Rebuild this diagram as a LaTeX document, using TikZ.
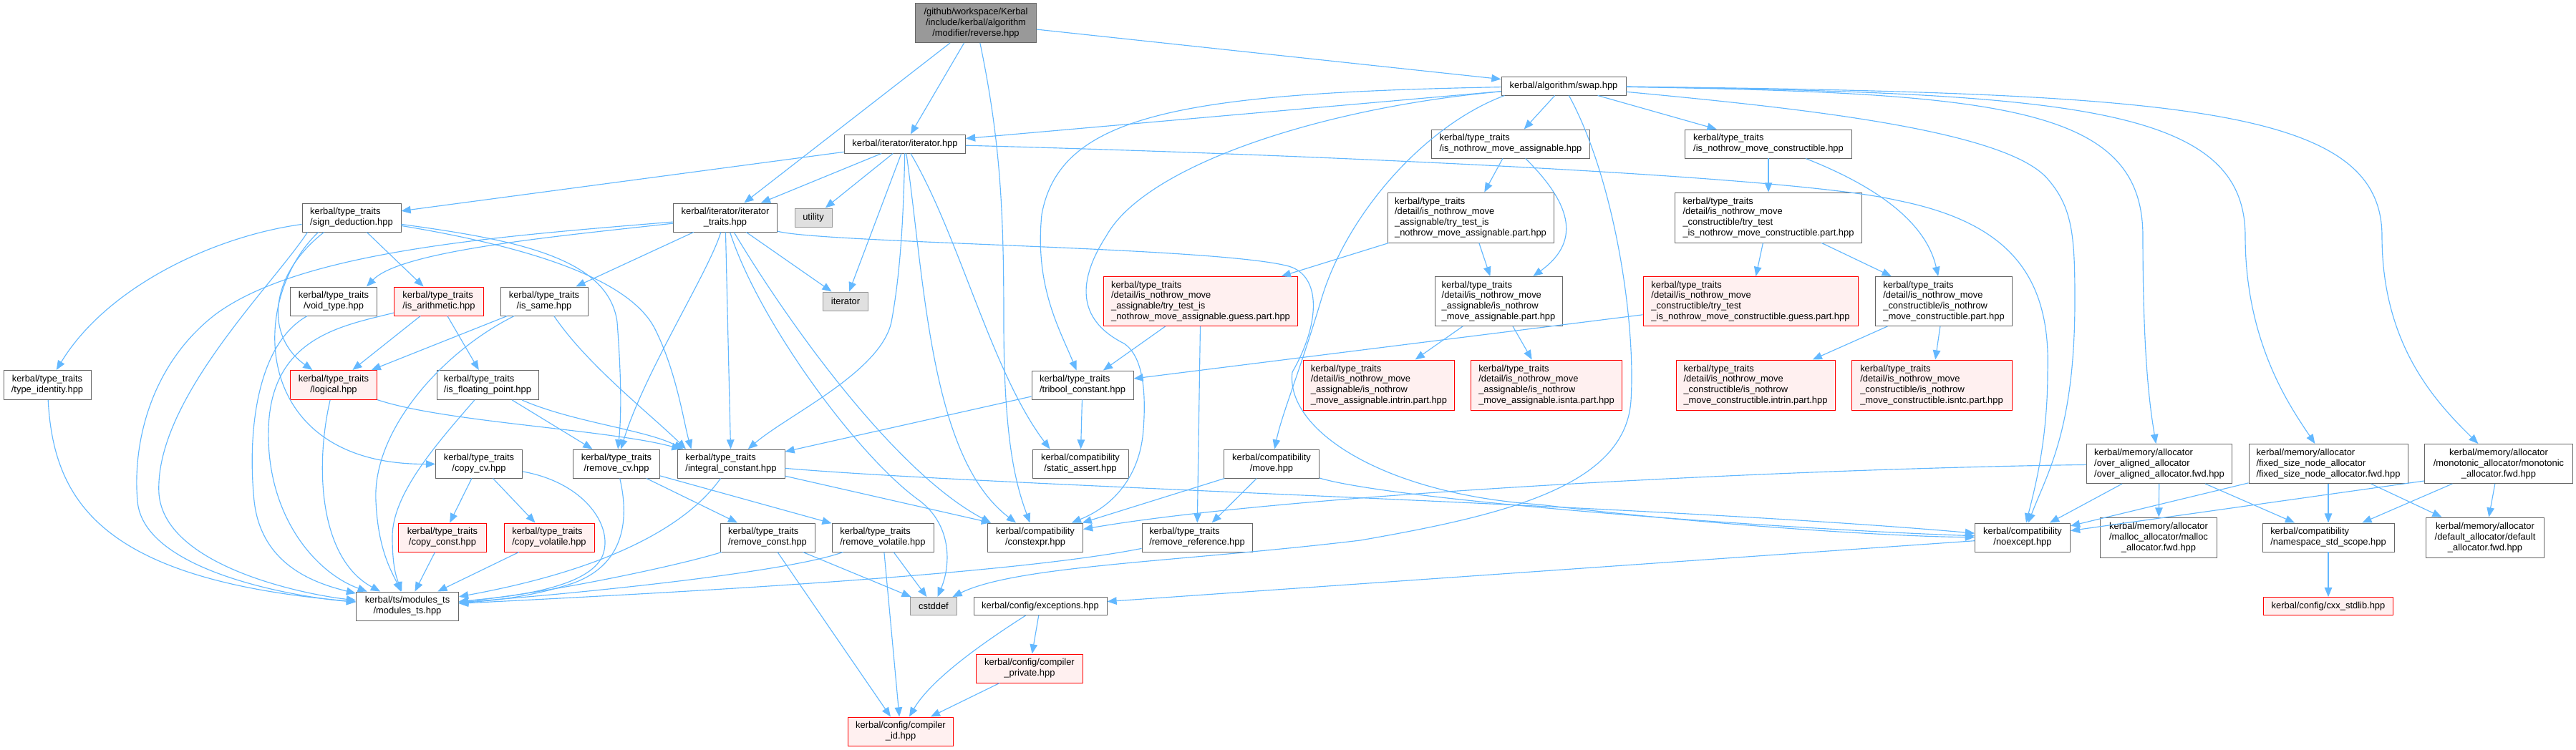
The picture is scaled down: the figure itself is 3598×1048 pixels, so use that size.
\documentclass[tikz,border=0pt]{standalone}
\usepackage{fontspec}
\setmainfont{Liberation Sans}
\usetikzlibrary{arrows.meta}
\definecolor{edgec}{HTML}{63B8FF}
\definecolor{bordc}{HTML}{666666}
\definecolor{redfill}{HTML}{FFF0F0}
\definecolor{sysfill}{HTML}{E0E0E0}
\definecolor{sysbord}{HTML}{999999}
\definecolor{titlefill}{HTML}{999999}
\begin{document}
\begin{tikzpicture}[x=0.02cm,y=-0.02cm,
  base/.style={rectangle, line width=0.55pt, inner xsep=0.12cm, inner ysep=0.05cm, font=\fontsize{7.35}{8.4}\selectfont, text=black},
  nd/.style={base, draw=bordc, fill=white},
  nr/.style={base, draw=red, fill=redfill},
  ns/.style={base, draw=sysbord, fill=sysfill},
  nt/.style={base, draw=bordc, fill=titlefill},
  sz/.style 2 args={minimum width=#1*0.02cm, minimum height=#2*0.02cm},
  L/.style={align=left}, C/.style={align=center},
  lk/.style={draw=edgec, line width=0.65pt, -{Triangle[length=7.5pt,width=6pt]}}
]
\path[use as bounding box] (0,0) rectangle (3598,1048);

% ---------------- nodes ----------------
\node[nt,C,sz={169}{55}] (title) at (1363,32) {/github/workspace/Kerbal\\/include/kerbal/algorithm\\/modifier/reverse.hpp};
\node[nd,sz={174}{26}] (swap) at (2184,120) {kerbal/algorithm/swap.hpp};
\node[nd,sz={169}{26}] (iter) at (1264,201) {kerbal/iterator/iterator.hpp};
\node[nd,L,sz={221}{40}] (inma) at (2110,201) {kerbal/type\_traits\\/is\_nothrow\_move\_assignable.hpp};
\node[nd,L,sz={233}{40}] (inmc) at (2470,201) {kerbal/type\_traits\\/is\_nothrow\_move\_constructible.hpp};
\node[nd,L,sz={138}{40}] (sign) at (491,304) {kerbal/type\_traits\\/sign\_deduction.hpp};
\node[nd,C,sz={145}{40}] (itt) at (1013,304) {kerbal/iterator/iterator\\\_traits.hpp};
\node[ns,sz={52}{26}] (utility) at (1136,304) {utility};
\node[nd,L,sz={232}{70}] (tta) at (2054,304) {kerbal/type\_traits\\/detail/is\_nothrow\_move\\\_assignable/try\_test\_is\\\_nothrow\_move\_assignable.part.hpp};
\node[nd,L,sz={261}{70}] (ttc) at (2470,304) {kerbal/type\_traits\\/detail/is\_nothrow\_move\\\_constructible/try\_test\\\_is\_nothrow\_move\_constructible.part.hpp};
\node[nd,C,sz={121}{40}] (void) at (466,421) {kerbal/type\_traits\\/void\_type.hpp};
\node[nr,L,sz={125}{40}] (arith) at (613,421) {kerbal/type\_traits\\/is\_arithmetic.hpp};
\node[nd,C,sz={122}{40}] (same) at (760,421) {kerbal/type\_traits\\/is\_same.hpp};
\node[ns,sz={63}{26}] (iterator) at (1181,421) {iterator};
\node[nr,L,sz={271}{69}] (ga) at (1677,421) {kerbal/type\_traits\\/detail/is\_nothrow\_move\\\_assignable/try\_test\_is\\\_nothrow\_move\_assignable.guess.part.hpp};
\node[nd,L,sz={178}{69}] (dap) at (2093,421) {kerbal/type\_traits\\/detail/is\_nothrow\_move\\\_assignable/is\_nothrow\\\_move\_assignable.part.hpp};
\node[nr,L,sz={300}{69}] (gc) at (2445,421) {kerbal/type\_traits\\/detail/is\_nothrow\_move\\\_constructible/try\_test\\\_is\_nothrow\_move\_constructible.guess.part.hpp};
\node[nd,L,sz={191}{69}] (dcp) at (2715,421) {kerbal/type\_traits\\/detail/is\_nothrow\_move\\\_constructible/is\_nothrow\\\_move\_constructible.part.hpp};
\node[nd,C,sz={122}{41}] (typeid) at (66,538) {kerbal/type\_traits\\/type\_identity.hpp};
\node[nr,C,sz={121}{41}] (logical) at (466,538) {kerbal/type\_traits\\/logical.hpp};
\node[nd,L,sz={142}{41}] (isfp) at (681,538) {kerbal/type\_traits\\/is\_floating\_point.hpp};
\node[nd,L,sz={142}{40}] (tribool) at (1512,538) {kerbal/type\_traits\\/tribool\_constant.hpp};
\node[nr,L,sz={211}{70}] (ia) at (1926,538) {kerbal/type\_traits\\/detail/is\_nothrow\_move\\\_assignable/is\_nothrow\\\_move\_assignable.intrin.part.hpp};
\node[nr,L,sz={211}{70}] (isnta) at (2160,538) {kerbal/type\_traits\\/detail/is\_nothrow\_move\\\_assignable/is\_nothrow\\\_move\_assignable.isnta.part.hpp};
\node[nr,L,sz={222}{70}] (ic) at (2452,538) {kerbal/type\_traits\\/detail/is\_nothrow\_move\\\_constructible/is\_nothrow\\\_move\_constructible.intrin.part.hpp};
\node[nr,L,sz={224}{70}] (isntc) at (2698,538) {kerbal/type\_traits\\/detail/is\_nothrow\_move\\\_constructible/is\_nothrow\\\_move\_constructible.isntc.part.hpp};
\node[nd,C,sz={121}{40}] (copycv) at (669,648) {kerbal/type\_traits\\/copy\_cv.hpp};
\node[nd,C,sz={121}{40}] (removecv) at (861,648) {kerbal/type\_traits\\/remove\_cv.hpp};
\node[nd,L,sz={150}{40}] (intc) at (1021,648) {kerbal/type\_traits\\/integral\_constant.hpp};
\node[nd,C,sz={134}{40}] (sa) at (1509,648) {kerbal/compatibility\\/static\_assert.hpp};
\node[nd,C,sz={133}{40}] (move) at (1776,648) {kerbal/compatibility\\/move.hpp};
\node[nd,L,sz={203}{55}] (oaa) at (3016,648) {kerbal/memory/allocator\\/over\_aligned\_allocator\\/over\_aligned\_allocator.fwd.hpp};
\node[nd,L,sz={222}{55}] (fsna) at (3252,648) {kerbal/memory/allocator\\/fixed\_size\_node\_allocator\\/fixed\_size\_node\_allocator.fwd.hpp};
\node[nd,C,sz={207}{55}] (mona) at (3490,648) {kerbal/memory/allocator\\/monotonic\_allocator/monotonic\\\_allocator.fwd.hpp};
\node[nr,C,sz={123}{40}] (cconst) at (618,751) {kerbal/type\_traits\\/copy\_const.hpp};
\node[nr,L,sz={126}{40}] (cvol) at (767,751) {kerbal/type\_traits\\/copy\_volatile.hpp};
\node[nd,L,sz={132}{40}] (rconst) at (1072,751) {kerbal/type\_traits\\/remove\_const.hpp};
\node[nd,L,sz={142}{40}] (rvol) at (1233,751) {kerbal/type\_traits\\/remove\_volatile.hpp};
\node[nd,C,sz={133}{40}] (constexpr) at (1446,751) {kerbal/compatibility\\/constexpr.hpp};
\node[nd,L,sz={154}{40}] (rref) at (1672,751) {kerbal/type\_traits\\/remove\_reference.hpp};
\node[nd,C,sz={133}{40}] (noexcept) at (2825,751) {kerbal/compatibility\\/noexcept.hpp};
\node[nd,C,sz={163}{56}] (malloc) at (3015,751) {kerbal/memory/allocator\\/malloc\_allocator/malloc\\\_allocator.fwd.hpp};
\node[nd,L,sz={184}{40}] (nss) at (3252,751) {kerbal/compatibility\\/namespace\_std\_scope.hpp};
\node[nd,C,sz={165}{56}] (defa) at (3471,751) {kerbal/memory/allocator\\/default\_allocator/default\\\_allocator.fwd.hpp};
\node[nd,C,sz={143}{40}] (modts) at (569,847) {kerbal/ts/modules\_ts\\/modules\_ts.hpp};
\node[ns,sz={65}{25}] (cstddef) at (1304,847) {cstddef};
\node[nd,sz={186}{25}] (exc) at (1453,847) {kerbal/config/exceptions.hpp};
\node[nr,sz={181}{25}] (cxx) at (3252,847) {kerbal/config/cxx\_stdlib.hpp};
\node[nr,C,sz={149}{40}] (cpriv) at (1438,934) {kerbal/config/compiler\\\_private.hpp};
\node[nr,C,sz={147}{40}] (cid) at (1258,1022) {kerbal/config/compiler\\\_id.hpp};

% ---------------- edges ----------------
% title
\draw[lk] (title) -- (itt);
\draw[lk] (title) -- (iter);
\draw[lk] (title) .. controls (1398,200) and (1402,300) .. (1402,450) .. controls (1402,620) and (1420,680) .. (constexpr);
\draw[lk] (title) -- (swap);
% swap
\draw[lk] (swap) -- (iter);
\draw[lk] (swap) -- (inma);
\draw[lk] (swap) -- (inmc);
\draw[lk] (swap) .. controls (1650,130) and (1480,160) .. (1455,300) .. controls (1445,400) and (1480,460) .. (tribool);
\draw[lk] (swap) .. controls (1850,150) and (1600,230) .. (1545,330) .. controls (1500,400) and (1510,450) .. (1570,480) .. controls (1600,500) and (1600,560) .. (1597,600) .. controls (1593,660) and (1560,705) .. (constexpr);
\draw[lk] ([xshift=0.1cm]swap.south west) .. controls (1990,175) and (1880,300) .. (1845,420) .. controls (1815,520) and (1790,580) .. (move);
\draw[lk] (swap) .. controls (2255,250) and (2285,450) .. (2278,560) .. controls (2270,680) and (2100,720) .. (1900,755) .. controls (1650,785) and (1420,790) .. (cstddef);
\draw[lk] (swap) .. controls (2500,150) and (2800,180) .. (2860,250) .. controls (2895,290) and (2898,330) .. (2898,420) .. controls (2898,600) and (2860,660) .. (noexcept);
\draw[lk] (swap) .. controls (2800,130) and (2993,150) .. (2993,330) .. controls (2993,500) and (3003,570) .. (oaa);
\draw[lk] (swap) .. controls (2900,130) and (3136,150) .. (3136,330) .. controls (3136,480) and (3200,570) .. (fsna);
\draw[lk] (swap) .. controls (3050,130) and (3327,150) .. (3327,330) .. controls (3327,480) and (3400,560) .. (mona);
% iterator.hpp
\draw[lk] (iter) -- (sign);
\draw[lk] (iter) -- (itt);
\draw[lk] (iter) -- (utility);
\draw[lk] (iter) -- (iterator);
\draw[lk] (iter) .. controls (1262,300) and (1258,380) .. (1245,450) .. controls (1230,520) and (1100,580) .. (intc);
\draw[lk] (iter) .. controls (1292,400) and (1300,640) .. (constexpr);
\draw[lk] (iter) .. controls (1340,330) and (1385,520) .. ([xshift=0.5cm]sa.north west);
\draw[lk] (iter) .. controls (1800,215) and (2500,245) .. (2650,280) .. controls (2800,310) and (2865,380) .. (2860,520) .. controls (2860,620) and (2840,690) .. (noexcept);
% iterator_traits
\draw[lk] (itt) .. controls (780,330) and (560,350) .. ([xshift=-0.3cm]void.north east);
\draw[lk] (itt) .. controls (700,330) and (420,350) .. (300,440) .. controls (210,510) and (185,620) .. (192,700) .. controls (200,800) and (420,835) .. (modts);
\draw[lk] (itt) -- (same);
\draw[lk] (itt) .. controls (990,380) and (900,520) .. (removecv);
\draw[lk] (itt) -- (intc);
\draw[lk] (itt) .. controls (1060,450) and (1200,640) .. (1285,700) .. controls (1330,735) and (1328,790) .. (cstddef);
\draw[lk] (itt) .. controls (1100,450) and (1250,660) .. ([xshift=0.1cm]constexpr.north west);
\draw[lk] (itt) -- (iterator);
\draw[lk] (itt) .. controls (1150,340) and (1700,345) .. (1800,372) .. controls (1845,385) and (1845,450) .. (1805,520) .. controls (1795,600) and (1930,690) .. (2150,705) .. controls (2400,735) and (2650,750) .. (noexcept);
% sign_deduction
\draw[lk] (sign) .. controls (300,330) and (150,400) .. (typeid);
\draw[lk] ([xshift=0.16cm]sign.south west) .. controls (380,400) and (215,560) .. (222,690) .. controls (230,790) and (420,830) .. (modts);
\draw[lk] ([xshift=0.46cm]sign.south west) .. controls (345,420) and (350,650) .. (copycv);
\draw[lk] ([xshift=0.62cm]sign.south west) .. controls (375,385) and (370,470) .. (logical);
\draw[lk] (sign) -- (arith);
\draw[lk] (sign) .. controls (720,335) and (850,360) .. (862,450) .. controls (868,530) and (868,580) .. (removecv);
\draw[lk] (sign) .. controls (740,345) and (880,390) .. (915,460) .. controls (945,520) and (955,590) .. ([xshift=0.4cm]intc.north west);
% is_same
\draw[lk] (same) -- (logical);
\draw[lk] (same) .. controls (620,490) and (520,600) .. (525,700) .. controls (528,770) and (548,800) .. (modts);
\draw[lk] (same) .. controls (820,510) and (910,580) .. ([xshift=0.25cm]intc.north west);
% is_arithmetic
\draw[lk] (arith) -- (logical);
\draw[lk] (arith) -- (isfp);
\draw[lk] (arith) .. controls (480,455) and (378,470) .. (375,600) .. controls (372,720) and (440,800) .. (modts);
% void_type
\draw[lk] (void) .. controls (360,480) and (345,600) .. (355,700) .. controls (365,790) and (440,815) .. (modts);
% logical
\draw[lk] (logical) .. controls (440,650) and (445,780) .. (modts);
\draw[lk] (logical) .. controls (620,590) and (850,600) .. ([xshift=0.12cm]intc.north west);
% is_floating_point
\draw[lk] (isfp) -- (removecv);
\draw[lk] (isfp) .. controls (800,590) and (900,600) .. ([xshift=0.18cm]intc.north west);
\draw[lk] (isfp) .. controls (610,620) and (548,690) .. (548,750) .. controls (548,790) and (553,805) .. (modts);
% type_identity
\draw[lk] (typeid) .. controls (75,700) and (140,810) .. (modts);
% copy_cv
\draw[lk] (copycv) -- (cconst);
\draw[lk] (copycv) -- (cvol);
\draw[lk] (copycv) .. controls (820,675) and (860,740) .. (840,780) .. controls (815,825) and (700,835) .. (modts);
\draw[lk] (cconst) -- (modts);
\draw[lk] (cvol) -- (modts);
% remove_cv
\draw[lk] (removecv) -- (rconst);
\draw[lk] (removecv) -- (rvol);
\draw[lk] (removecv) .. controls (880,730) and (870,790) .. (800,815) .. controls (740,835) and (680,840) .. (modts);
% integral_constant
\draw[lk] (intc) .. controls (970,720) and (880,790) .. (modts);
\draw[lk] (intc) -- ([xshift=0.1cm]constexpr.north west);
\draw[lk] (intc) .. controls (1400,680) and (2300,705) .. (noexcept);
% tribool
\draw[lk] (tribool) -- (intc);
\draw[lk] (tribool) -- (sa);
% move
\draw[lk] (move) -- (constexpr);
\draw[lk] (move) -- (rref);
\draw[lk] (move) .. controls (1950,700) and (2500,740) .. (noexcept);
% remove_const / volatile / reference
\draw[lk] (rconst) .. controls (950,790) and (760,830) .. (modts);
\draw[lk] (rconst) -- (cstddef);
\draw[lk] (rconst) -- (cid);
\draw[lk] (rvol) .. controls (1100,800) and (800,830) .. (modts);
\draw[lk] (rvol) -- (cid);
\draw[lk] (rvol) -- (cstddef);
\draw[lk] (rref) .. controls (1400,805) and (900,830) .. (modts);
% config
\draw[lk] (noexcept) -- (exc);
\draw[lk] (exc) -- (cpriv);
\draw[lk] (exc) .. controls (1370,900) and (1300,950) .. (cid);
\draw[lk] (cpriv) -- (cid);
% allocators
\draw[lk] (oaa) .. controls (2500,655) and (1800,690) .. (constexpr);
\draw[lk] (oaa) -- (noexcept);
\draw[lk] (oaa) -- (malloc);
\draw[lk] (oaa) -- (nss);
\draw[lk] (fsna) -- (noexcept);
\draw[lk] (fsna) -- (nss);
\draw[lk] (fsna) -- (defa);
\draw[lk] ([yshift=0.08cm]mona.south west) -- (noexcept);
\draw[lk] (mona) -- (nss);
\draw[lk] (mona) -- (defa);
\draw[lk] (nss) -- (cxx);
% is_nothrow_move_*
\draw[lk] (inma) -- (tta);
\draw[lk] (inma) .. controls (2200,290) and (2205,340) .. (dap);
\draw[lk] (inmc) -- (ttc);
\draw[lk] (inmc) .. controls (2620,260) and (2690,310) .. (dcp);
\draw[lk] (tta) -- (ga);
\draw[lk] (tta) -- (dap);
\draw[lk] (ttc) -- (gc);
\draw[lk] (ttc) -- (dcp);
\draw[lk] (ga) -- (tribool);
\draw[lk] (ga) -- (rref);
\draw[lk] (gc) -- (tribool);
\draw[lk] (dap) -- (ia);
\draw[lk] (dap) -- (isnta);
\draw[lk] (dcp) -- (ic);
\draw[lk] (dcp) -- (isntc);
\end{tikzpicture}
\end{document}
